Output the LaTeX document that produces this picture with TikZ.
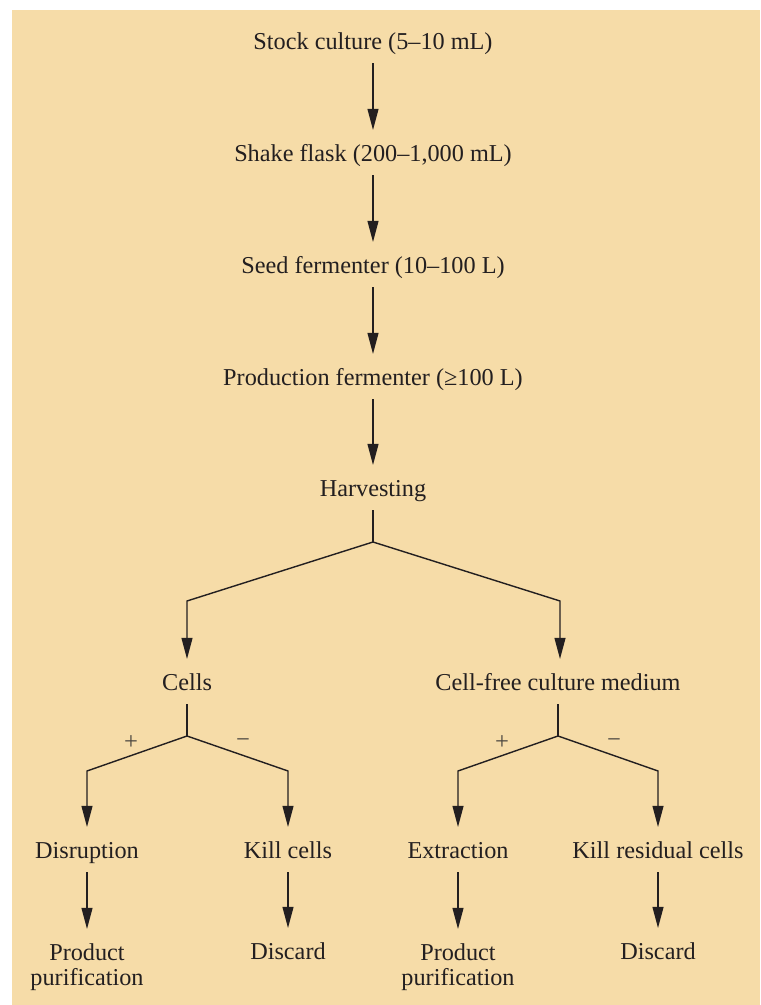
\documentclass[tikz,border=0pt]{standalone}
\usepackage{fontspec}
\setmainfont{Liberation Serif}
\usepackage{tikz}
\usetikzlibrary{arrows.meta,calc}
\definecolor{panelbg}{HTML}{F6DCA8}
\definecolor{inkdark}{HTML}{231F20}
\definecolor{signgray}{HTML}{4A4640}

\begin{document}
\begin{tikzpicture}[
    every node/.style={font=\fontsize{13.8}{14.2}\selectfont, color=inkdark},
    stage/.style={anchor=base, text height=13pt, text depth=2.4pt, inner ysep=5pt},
    stagetwo/.style={anchor=north, align=center, inner ysep=8.2pt},
    sign/.style={font=\fontsize{14}{15}\selectfont, color=signgray},
    flow/.style={draw=inkdark, line width=0.8pt, -{Triangle[length=12pt,width=6.2pt]}},
    link/.style={draw=inkdark, line width=0.8pt}
]
    % Panel
    \useasboundingbox (0,0) rectangle (15.2,20.1);
    \fill[panelbg] (0.24,0) rectangle (15.2,19.9);

    % Scale-up chain
    \node[stage] (stock) at (7.46,19.1)  {Stock culture (5–10 mL)};
    \node[stage] (shake) at (7.46,16.86) {Shake flask (200–1,000 mL)};
    \node[stage] (seed)  at (7.46,14.62) {Seed fermenter (10–100 L)};
    \node[stage] (prod)  at (7.46,12.38) {Production fermenter (≥100 L)};
    \node[stage] (harv)  at (7.46,10.16) {Harvesting};

    \draw[flow] (stock.south) -- (shake.north);
    \draw[flow] (shake.south) -- (seed.north);
    \draw[flow] (seed.south) -- (prod.north);
    \draw[flow] (prod.south) -- (harv.north);

    % Harvest split
    \coordinate (hj) at (7.46,9.26);
    \coordinate (cl) at (3.74,8.08);
    \coordinate (cr) at (11.2,8.08);

    \node[stage] (cells)    at (3.74,6.28)  {Cells};
    \node[stage] (cellfree) at (11.16,6.28) {Cell-free culture medium};

    \draw[link] (harv.south) -- (hj);
    \draw[flow] (hj) -- (cl) -- (cl |- cells.north);
    \draw[flow] (hj) -- (cr) -- (cr |- cellfree.north);

    % Cells branch
    \coordinate (cj) at (3.74,5.38);
    \coordinate (cjl) at (1.74,4.68);
    \coordinate (cjr) at (5.76,4.68);
    \node[sign] (cplus)  at (2.62,5.24) {+};
    \node[sign] (cminus) at (4.86,5.24) {−};

    \node[stage] (disrupt) at (1.74,2.92) {Disruption};
    \node[stage] (killc)   at (5.76,2.92) {Kill cells};
    \node[stagetwo] (purea) at (1.74,1.52) {Product\\purification};
    \node[stage] (discarda) at (5.76,0.9) {Discard};

    \draw[link] (cells.south) -- (cj);
    \draw[flow] (cj) -- (cjl) -- (disrupt.north);
    \draw[flow] (cj) -- (cjr) -- (killc.north);
    \draw[flow] (disrupt.south) -- (purea.north);
    \draw[flow] (killc.south) -- (discarda.north);

    % Medium branch
    \coordinate (mj) at (11.16,5.38);
    \coordinate (mjl) at (9.16,4.68);
    \coordinate (mjr) at (13.16,4.68);
    \node[sign] (mplus)  at (10.04,5.24) {+};
    \node[sign] (mminus) at (12.28,5.24) {−};

    \node[stage] (extract) at (9.16,2.92)  {Extraction};
    \node[stage] (killr)   at (13.16,2.92) {Kill residual cells};
    \node[stagetwo] (pureb) at (9.16,1.52) {Product\\purification};
    \node[stage] (discardb) at (13.16,0.9) {Discard};

    \draw[link] (cellfree.south) -- (mj);
    \draw[flow] (mj) -- (mjl) -- (extract.north);
    \draw[flow] (mj) -- (mjr) -- (killr.north);
    \draw[flow] (extract.south) -- (pureb.north);
    \draw[flow] (killr.south) -- (discardb.north);
\end{tikzpicture}
\end{document}
